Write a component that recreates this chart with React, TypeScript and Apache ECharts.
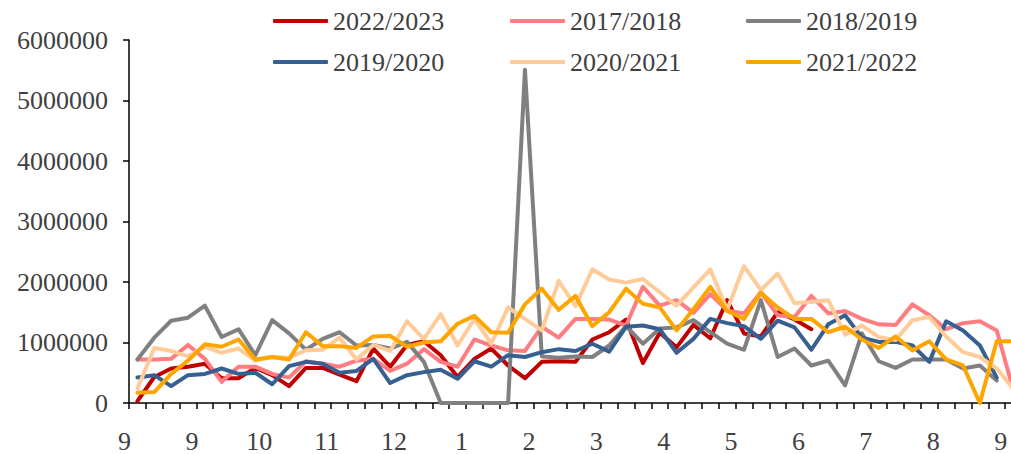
import React, { useEffect, useRef } from "react";
import * as echarts from "echarts";

// 53 weekly slots (the last one is cropped at the right edge of the picture)
const weeks = Array.from({ length: 53 }, (_, i) => `W${i + 1}`);
// month labels shown every 4 weeks, at the week boundaries
const monthTicks = ["9", "9", "10", "11", "12", "1", "2", "3", "4", "5", "6", "7", "8", "9"];

// values in millions
const s2223 = [0.03, 0.43, 0.57, 0.6, 0.65, 0.41, 0.41, 0.58, 0.46, 0.28, 0.58, 0.58, 0.47, 0.36, 0.9, 0.6, 0.96, 1.02, 0.79, 0.43, 0.73, 0.9, 0.62, 0.41, 0.68, 0.69,
  0.68, 1.05, 1.17, 1.38, 0.66, 1.16, 0.92, 1.29, 1.07, 1.7, 1.15, 1.1, 1.5, 1.38, 1.22,
  null, null, null, null, null, null, null, null, null, null, null, null];
const s1718 = [0.72, 0.72, 0.73, 0.96, 0.73, 0.35, 0.6, 0.6, 0.48, 0.42, 0.69, 0.65, 0.6, 0.7, 0.73, 0.53, 0.65, 0.89, 0.68, 0.6, 1.05, 0.95, 0.87, 0.86, 1.26, 1.08,
  1.39, 1.39, 1.38, 1.28, 1.92, 1.61, 1.7, 1.49, 1.8, 1.53, 1.48, 1.83, 1.45, 1.42, 1.77, 1.48, 1.52, 1.39, 1.3, 1.29, 1.63, 1.45, 1.22, 1.32, 1.35, 1.2, 0.2];
const s1819 = [0.72, 1.08, 1.36, 1.41, 1.61, 1.09, 1.22, 0.79, 1.37, 1.15, 0.88, 1.06, 1.17, 0.95, 0.96, 0.9, 1.01, 0.68, 0, 0, 0, 0, 0, 5.51, 0.77, 0.75,
  0.77, 0.76, 0.95, 1.27, 0.98, 1.23, 1.25, 1.37, 1.17, 0.98, 0.88, 1.7, 0.76, 0.9, 0.62, 0.7, 0.29, 1.15, 0.69, 0.58, 0.72, 0.72, 0.72, 0.57, 0.62, 0.37, null];
const s1920 = [0.42, 0.46, 0.28, 0.46, 0.48, 0.57, 0.48, 0.5, 0.31, 0.61, 0.68, 0.65, 0.5, 0.53, 0.73, 0.33, 0.46, 0.51, 0.55, 0.4, 0.69, 0.6, 0.79, 0.76, 0.84, 0.89,
  0.86, 0.98, 0.85, 1.26, 1.28, 1.22, 0.83, 1.06, 1.39, 1.32, 1.27, 1.06, 1.36, 1.25, 0.88, 1.3, 1.45, 1.08, 1.01, 1.01, 0.95, 0.68, 1.35, 1.2, 0.95, 0.42, null];
const s2021 = [0.24, 0.91, 0.86, 0.77, 0.93, 0.83, 0.9, 0.7, 0.76, 0.75, 0.87, 0.88, 1.08, 0.72, 0.96, 0.86, 1.35, 1.06, 1.47, 0.95, 1.39, 0.98, 1.58, 1.39, 1.2, 2.02,
  1.6, 2.21, 2.04, 1.99, 2.05, 1.83, 1.61, 1.91, 2.21, 1.54, 2.26, 1.87, 2.14, 1.65, 1.67, 1.7, 1.13, 1.28, 1.09, 1.04, 1.37, 1.42, 1.1, 0.84, 0.76, 0.57, 0.23];
const s2122 = [0.17, 0.18, 0.48, 0.7, 0.97, 0.93, 1.05, 0.72, 0.76, 0.72, 1.17, 0.94, 0.94, 0.91, 1.1, 1.11, 0.93, 1.0, 1.02, 1.31, 1.44, 1.17, 1.16, 1.63, 1.89, 1.54,
  1.77, 1.27, 1.5, 1.89, 1.64, 1.58, 1.2, 1.55, 1.92, 1.52, 1.39, 1.82, 1.58, 1.39, 1.39, 1.17, 1.26, 1.05, 0.91, 1.1, 0.87, 1.02, 0.72, 0.62, 0, 1.02, 1.02];

const UNIT = 1000000;

const seriesDefs = [
  { name: "2022/2023", data: s2223, color: "#C00000" },
  { name: "2017/2018", data: s1718, color: "#FF7C80" },
  { name: "2018/2019", data: s1819, color: "#808080" },
  { name: "2019/2020", data: s1920, color: "#376092" },
  { name: "2020/2021", data: s2021, color: "#FFCC99" },
  { name: "2021/2022", data: s2122, color: "#FFA500" },
];

// legend grid: 3 columns x 2 rows
const legendCols = [273, 510, 746];
const legendRows = [8, 49];

const FONT = "'Liberation Serif', 'Times New Roman', serif";
const TEXT = "#404040";

export default function App() {
  const ref = useRef<HTMLDivElement>(null);
  useEffect(() => {
    document.body.style.margin = "0";
    const chart = echarts.init(ref.current!, null, { renderer: "svg" });
    const legends = seriesDefs.map((s, i) => ({
      left: legendCols[i % 3],
      top: legendRows[Math.floor(i / 3)],
      padding: 0,
      icon: "roundRect",
      itemWidth: 55,
      itemHeight: 4,
      itemGap: 0,
      data: [s.name],
      textStyle: { fontSize: 26, fontFamily: FONT, color: TEXT, lineHeight: 26 },
    }));
    chart.setOption({
      animation: false,
      grid: { left: 129, width: 893, top: 40, bottom: 51, containLabel: false, outerBoundsMode: "none" },
      legend: legends,
      xAxis: [
        {
          type: "category",
          data: weeks,
          boundaryGap: true,
          axisLine: { lineStyle: { color: "#000", width: 1.5 } },
          axisTick: { show: true, interval: 0, length: 6, lineStyle: { color: "#000", width: 1.5 } },
          axisLabel: { show: false },
          splitLine: { show: false },
        },
        {
          type: "value",
          position: "bottom",
          min: 0,
          max: 53,
          interval: 4,
          axisLine: { show: false },
          axisTick: { show: false },
          splitLine: { show: false },
          axisLabel: {
            formatter: (v: number) => (v % 4 === 0 && v / 4 < monthTicks.length ? monthTicks[v / 4] : ""),
            fontSize: 26,
            fontFamily: FONT,
            color: TEXT,
            margin: 25,
            padding: [0, 9, 0, 0],
            showMinLabel: true,
          },
        },
      ],
      yAxis: {
        type: "value",
        min: 0,
        max: 6000000,
        interval: 1000000,
        axisLine: { show: true, lineStyle: { color: "#000", width: 1.5 } },
        axisTick: { show: true, length: 6, lineStyle: { color: "#000", width: 1.5 } },
        splitLine: { show: false },
        axisLabel: { fontSize: 26, fontFamily: FONT, color: TEXT, margin: 21, formatter: (v: number) => String(v) },
      },
      series: seriesDefs.map((s) => ({
        name: s.name,
        type: "line",
        xAxisIndex: 0,
        symbol: "none",
        connectNulls: false,
        data: s.data.map((v) => (v === null ? null : Math.round(v * UNIT))),
        itemStyle: { color: s.color },
        lineStyle: { color: s.color, width: 4, cap: "round", join: "round" },
      })),
    });
    return () => chart.dispose();
  }, []);
  return <div ref={ref} style={{ width: 1011, height: 454 }} />;
}
